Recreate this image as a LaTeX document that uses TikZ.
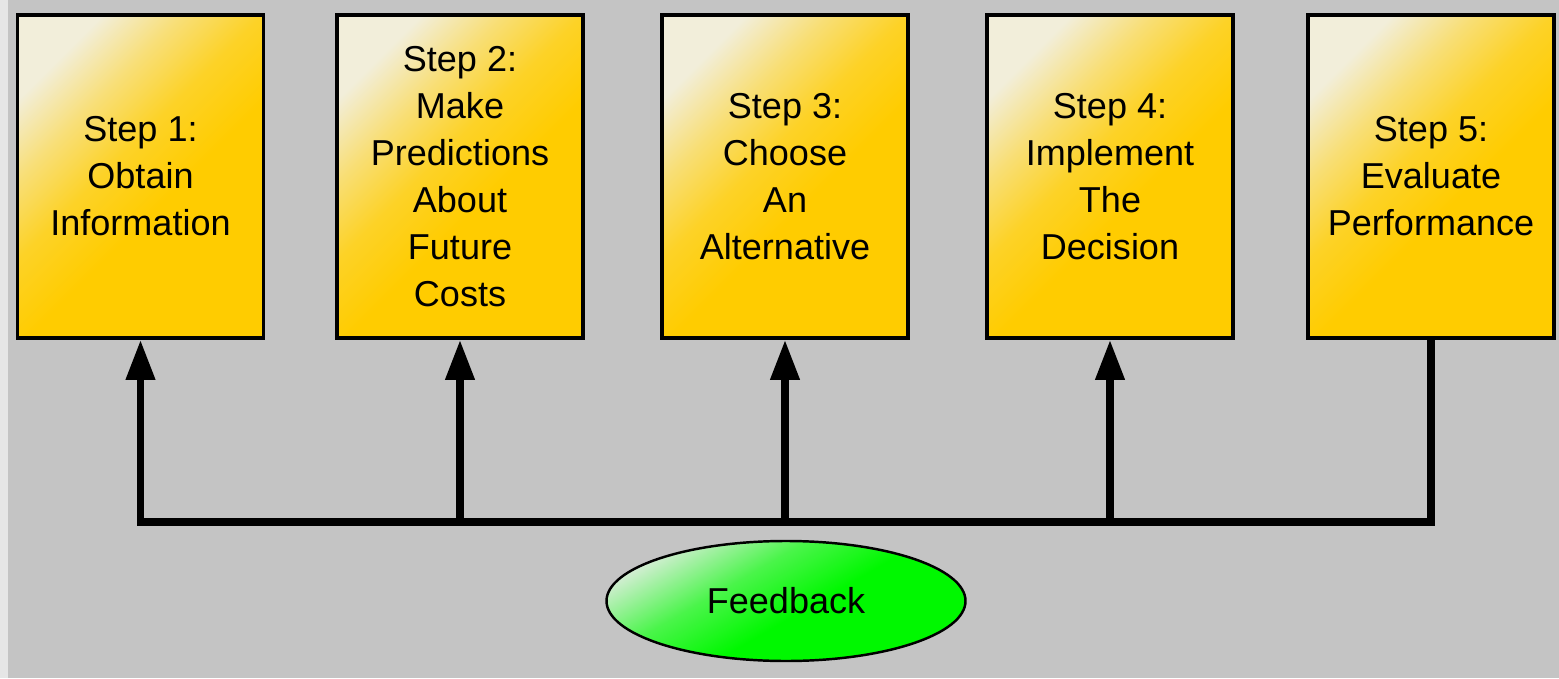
\documentclass[tikz,border=0pt]{standalone}
\usepackage{fontspec}
\setmainfont{Liberation Sans}
\usepackage{tikz}
\usetikzlibrary{arrows.meta,%
		calc,%
		positioning,%
		shapes,%
		shapes.geometric}
\definecolor{fondo}{HTML}{C4C4C4}
\definecolor{bordino}{HTML}{E6E6E6}
\definecolor{oro}{HTML}{FFCC00}
\definecolor{crema}{HTML}{F2EEDA}
\definecolor{verde}{HTML}{00F800}
\definecolor{verdechiaro}{HTML}{D2EED2}
\pgfdeclareverticalshading{oroso}{100bp}{color(0bp)=(oro); color(44bp)=(oro);
	color(55bp)=(oro!82!crema); color(65bp)=(oro!45!crema); color(75bp)=(crema); color(100bp)=(crema)}
\pgfdeclareverticalshading{verdoso}{100bp}{color(0bp)=(verde); color(46bp)=(verde);
	color(60bp)=(verde!65!verdechiaro); color(75bp)=(verdechiaro); color(100bp)=(verdechiaro)}

\begin{document}
\begin{tikzpicture}[font=\fontsize{20.5}{26.8}\selectfont,
	passo/.style={rectangle,draw=black,line width=2.2pt,minimum width=4.92cm,
		minimum height=6.46cm,inner sep=0pt,align=center,
		shading=oroso,shading angle=45},
	ellisse/.style={ellipse,draw=black,line width=1.4pt,minimum width=7.18cm,
		minimum height=2.4cm,inner sep=0pt,shading=verdoso,shading angle=30},
	linea/.style={line width=4.2pt,line cap=rect,line join=miter},
	freccia/.style={linea,-{Triangle[length=0.8cm,width=0.56cm]}}]
\useasboundingbox (0,0) rectangle (31.18,13.56);
%lo sfondo
\fill[fondo] (0,0) rectangle (31.18,13.56);
\fill[bordino] (0,0) rectangle (0.16,13.56);

%i passi
\node[passo] (p1) at (2.81,10.03) {Step 1:\\Obtain\\Information};
\node[passo] (p2) at (9.2,10.03) {Step 2:\\Make\\Predictions\\About\\Future\\Costs};
\node[passo] (p3) at (15.7,10.03) {Step 3:\\Choose\\An\\Alternative};
\node[passo] (p4) at (22.2,10.03) {Step 4:\\Implement\\The\\Decision};
\node[passo] (p5) at (28.62,10.03) {Step 5:\\Evaluate\\Performance};

%il ritorno
\coordinate (base) at (2.81,3.12);
\draw[linea] (p5.south) |- (base);
\foreach \i in {1,...,4}
	\draw[freccia] (p\i.south |- base) -- (p\i.south);

\node[ellisse] (fb) at (15.72,1.54) {Feedback};

\end{tikzpicture}
\end{document}
